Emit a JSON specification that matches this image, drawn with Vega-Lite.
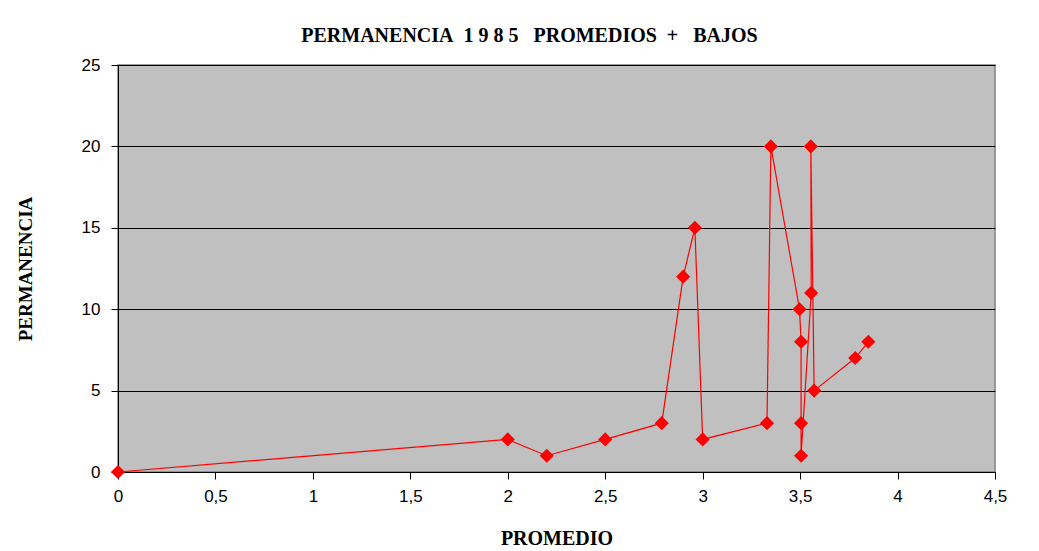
{
  "$schema": "https://vega.github.io/schema/vega-lite/v6.json",
  "autosize": {"type": "none"},
  "width": 877,
  "height": 407,
  "padding": {"left": 118, "top": 65, "right": 44, "bottom": 79},
  "background": "white",
  "title": {
    "text": "PERMANENCIA\u00a0\u00a01\u00a09\u00a08\u00a05\u00a0\u00a0\u00a0PROMEDIOS\u00a0\u00a0+\u00a0\u00a0\u00a0BAJOS",
    "font": "Liberation Serif",
    "fontSize": 20,
    "fontWeight": "bold",
    "color": "black",
    "anchor": "middle",
    "dx": -27,
    "offset": 10
  },
  "data": {
    "values": [
      {"orden": 1, "promedio": 0, "permanencia": 0},
      {"orden": 2, "promedio": 2.0, "permanencia": 2},
      {"orden": 3, "promedio": 2.2, "permanencia": 1},
      {"orden": 4, "promedio": 2.5, "permanencia": 2},
      {"orden": 5, "promedio": 2.79, "permanencia": 3},
      {"orden": 6, "promedio": 2.9, "permanencia": 12},
      {"orden": 7, "promedio": 2.96, "permanencia": 15},
      {"orden": 8, "promedio": 3.0, "permanencia": 2},
      {"orden": 9, "promedio": 3.33, "permanencia": 3},
      {"orden": 10, "promedio": 3.35, "permanencia": 20},
      {"orden": 11, "promedio": 3.497, "permanencia": 10},
      {"orden": 12, "promedio": 3.505, "permanencia": 8},
      {"orden": 13, "promedio": 3.505, "permanencia": 3},
      {"orden": 14, "promedio": 3.505, "permanencia": 1},
      {"orden": 15, "promedio": 3.557, "permanencia": 11},
      {"orden": 16, "promedio": 3.555, "permanencia": 20},
      {"orden": 17, "promedio": 3.572, "permanencia": 5},
      {"orden": 18, "promedio": 3.783, "permanencia": 7},
      {"orden": 19, "promedio": 3.85, "permanencia": 8}
    ]
  },
  "encoding": {
    "x": {
      "field": "promedio",
      "type": "quantitative",
      "title": "PROMEDIO",
      "scale": {"domain": [0, 4.5], "nice": false, "zero": true},
      "axis": {
        "values": [0, 0.5, 1, 1.5, 2, 2.5, 3, 3.5, 4, 4.5],
        "labelExpr": "replace(format(datum.value, '~g'), '.', ',')",
        "labelFlush": false,
        "grid": false,
        "domainColor": "black",
        "tickColor": "black",
        "tickSize": 7,
        "labelPadding": 9,
        "labelFont": "Liberation Sans",
        "labelFontSize": 17,
        "labelColor": "black",
        "titleFont": "Liberation Serif",
        "titleFontSize": 20,
        "titleFontWeight": "bold",
        "titleColor": "black",
        "titlePadding": 24
      }
    },
    "y": {
      "field": "permanencia",
      "type": "quantitative",
      "title": "PERMANENCIA",
      "scale": {"domain": [0, 25], "nice": false},
      "axis": {
        "values": [0, 5, 10, 15, 20, 25],
        "labelFlush": false,
        "grid": true,
        "gridColor": "black",
        "gridOpacity": 1,
        "gridWidth": 1,
        "domainColor": "black",
        "tickColor": "black",
        "tickSize": 7,
        "labelPadding": 11,
        "labelFont": "Liberation Sans",
        "labelFontSize": 17,
        "labelColor": "black",
        "titleFont": "Liberation Serif",
        "titleFontSize": 19,
        "titleFontWeight": "bold",
        "titleColor": "black",
        "titlePadding": 46
      }
    },
    "order": {"field": "orden", "type": "quantitative"}
  },
  "layer": [
    {"mark": {"type": "line", "color": "#FF0000", "strokeWidth": 1.2}},
    {"mark": {"type": "point", "shape": "diamond", "filled": true, "color": "#FF0000", "size": 200, "opacity": 1}}
  ],
  "config": {
    "view": {"fill": "#C0C0C0", "stroke": "#808080", "strokeWidth": 1.5}
  }
}
